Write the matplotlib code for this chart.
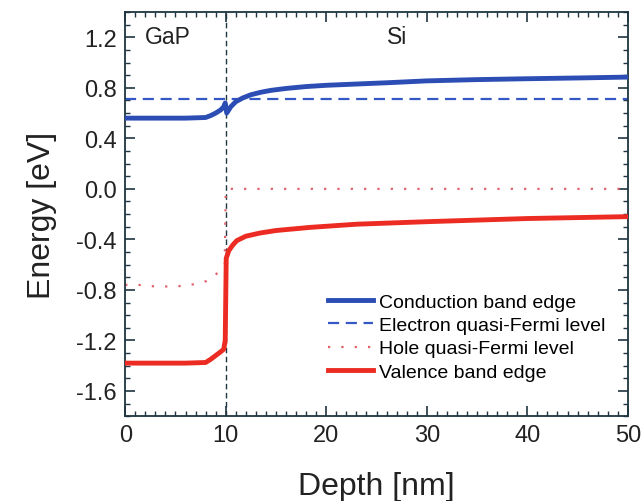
import numpy as np
import matplotlib
import matplotlib.pyplot as plt
from matplotlib.ticker import MultipleLocator

matplotlib.use('Agg')
plt.rcParams['font.family'] = ['Liberation Sans', 'DejaVu Sans']

# conduction band edge
cb_x = [0, 2, 4, 6, 8, 8.5, 9, 9.5, 9.8, 9.95, 10.1, 10.5, 11, 11.7, 12.5, 13.5,
        14.5, 16, 18, 20, 23, 26, 30, 35, 40, 45, 50]
cb_e = [0.56, 0.56, 0.56, 0.56, 0.565, 0.58, 0.60, 0.625, 0.65, 0.68, 0.60, 0.65,
        0.69, 0.72, 0.745, 0.765, 0.78, 0.795, 0.81, 0.82, 0.83, 0.84, 0.855,
        0.865, 0.872, 0.878, 0.885]

# electron quasi-Fermi level
efn_x = [0, 50]
efn_e = [0.71, 0.71]

# hole quasi-Fermi level
efp_x = [0, 1.3, 2.5, 3.6, 4.8, 6.0, 7.1, 8.1, 9.3, 9.9, 10.0, 10.1, 50]
efp_e = [-0.76, -0.76, -0.77, -0.775, -0.77, -0.77, -0.75, -0.73, -0.66, -0.6,
         -0.03, 0.0, 0.0]

# valence band edge
vb_x = [0, 2, 4, 6, 8, 8.5, 9, 9.5, 9.8, 9.95, 10.05, 10.3, 10.7, 11.1, 12, 13.4,
        15, 18.4, 23, 30, 40, 50]
vb_e = [-1.38, -1.38, -1.38, -1.38, -1.375, -1.35, -1.32, -1.29, -1.27, -1.2,
        -0.55, -0.49, -0.445, -0.41, -0.375, -0.35, -0.33, -0.305, -0.28, -0.26,
        -0.235, -0.22]

fig = plt.figure(figsize=(6.42, 5.02), dpi=100)
ax = fig.add_axes([0.195, 0.169, 0.783, 0.805])

ax.axvline(10, color='#1f3540', lw=1.0, linestyle=(0, (4, 2.5)), zorder=1)

ax.plot(cb_x, cb_e, color='#2b4db4', lw=3.5, label='Conduction band edge', zorder=3)
ax.plot(efn_x, efn_e, color='#3558c4', lw=1.6, linestyle=(0, (5, 3)),
        label='Electron quasi-Fermi level', zorder=2)
ax.plot(efp_x, efp_e, color='#e0606a', lw=1.6, linestyle=(0, (1, 5)),
        label='Hole quasi-Fermi level', zorder=2)
ax.plot(vb_x, vb_e, color='#ec2c22', lw=3.5, label='Valence band edge', zorder=3)

ax.set_xlim(0, 50)
ax.set_ylim(-1.8, 1.4)
ax.xaxis.set_major_locator(MultipleLocator(10))
ax.xaxis.set_minor_locator(MultipleLocator(1))
ax.yaxis.set_major_locator(MultipleLocator(0.4))
ax.yaxis.set_minor_locator(MultipleLocator(0.1))
ax.yaxis.set_major_formatter(matplotlib.ticker.FormatStrFormatter('%.1f'))

ax.tick_params(which='both', direction='in', top=True, right=True,
               color='#1f3540', labelsize=17, labelcolor='#222222', pad=6)
ax.tick_params(which='major', length=7, width=1.2)
ax.tick_params(which='minor', length=3.5, width=1.0)
for s in ax.spines.values():
    s.set_color('#1f3540')
    s.set_linewidth(1.3)

ax.set_xlabel('Depth [nm]', fontsize=23, color='#222222', labelpad=18)
ax.set_ylabel('Energy [eV]', fontsize=23, color='#222222', labelpad=14)

ax.text(2.0, 1.21, 'GaP', fontsize=16.5, color='#222222', va='center', ha='left')
ax.text(26.0, 1.21, 'Si', fontsize=16.5, color='#222222', va='center', ha='left')

ax.legend(loc='upper left', bbox_to_anchor=(0.404, 0.305), frameon=False,
          fontsize=14, handlelength=2.3, handletextpad=0.3,
          labelspacing=0.3, borderpad=0, borderaxespad=0)

fig.savefig('out.png', dpi=100)
